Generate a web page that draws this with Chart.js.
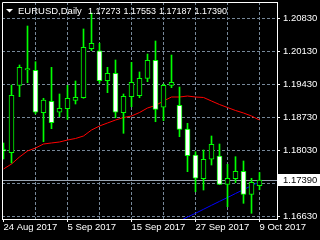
<!DOCTYPE html>
<html>
<head>
<meta charset="utf-8">
<script src="https://cdn.jsdelivr.net/npm/chart.js@4.4.1/dist/chart.umd.min.js"></script>
<style>
  html, body { margin: 0; padding: 0; background: #000; }
</style>
</head>
<body>
<canvas id="c" width="320" height="240"></canvas>
<script>
/* ── Data: EURUSD daily ───────────────────────────────── */
const days = [
    '24 Aug 2017', '25 Aug 2017', '28 Aug 2017', '29 Aug 2017', '30 Aug 2017', '31 Aug 2017',
    '1 Sep 2017', '4 Sep 2017', '5 Sep 2017', '6 Sep 2017', '7 Sep 2017', '8 Sep 2017',
    '11 Sep 2017', '12 Sep 2017', '13 Sep 2017', '14 Sep 2017', '15 Sep 2017',
    '18 Sep 2017', '19 Sep 2017', '20 Sep 2017', '21 Sep 2017', '22 Sep 2017',
    '25 Sep 2017', '26 Sep 2017', '27 Sep 2017', '28 Sep 2017', '29 Sep 2017',
    '2 Oct 2017', '3 Oct 2017', '4 Oct 2017', '5 Oct 2017', '6 Oct 2017', '9 Oct 2017',
];
const opens  = [1.18041, 1.17973, 1.19402, 1.19727, 1.19721, 1.18821, 1.19063, 1.18830, 1.18906, 1.19084, 1.19139,
                1.20179, 1.20136, 1.19500, 1.19657, 1.18821, 1.19161, 1.19182, 1.19551, 1.19933, 1.18936, 1.19402,
                1.18978, 1.18475, 1.17924, 1.17421, 1.17833, 1.17903, 1.17302, 1.17421, 1.17578, 1.17090, 1.17273];
const highs  = [1.18179, 1.19409, 1.19833, 1.20660, 1.19903, 1.19127, 1.19784, 1.19218, 1.19402, 1.19494, 1.20597,
                1.20936, 1.20293, 1.19784, 1.19939, 1.19218, 1.19890, 1.19685, 1.20066, 1.20342, 1.19430, 1.20045,
                1.19366, 1.18596, 1.17994, 1.18030, 1.18327, 1.18157, 1.17727, 1.17888, 1.17797, 1.17430, 1.17553];
const lows   = [1.17839, 1.17754, 1.19161, 1.19458, 1.18794, 1.18206, 1.18482, 1.18736, 1.18681, 1.19006, 1.19127,
                1.20136, 1.19445, 1.19246, 1.18715, 1.18384, 1.18948, 1.19139, 1.19479, 1.18630, 1.18652, 1.19352,
                1.18312, 1.17570, 1.17145, 1.17181, 1.17712, 1.17295, 1.16827, 1.17336, 1.16899, 1.16687, 1.17187];
const closes = [1.18009, 1.19190, 1.19784, 1.19759, 1.18830, 1.19091, 1.18609, 1.18915, 1.19127, 1.19148, 1.20209,
                1.20293, 1.19500, 1.19657, 1.18830, 1.19169, 1.19466, 1.19551, 1.19933, 1.18893, 1.19402, 1.19466,
                1.18469, 1.17909, 1.17430, 1.17833, 1.18151, 1.17302, 1.17430, 1.17578, 1.17090, 1.17345, 1.17390];

const maRed  = [1.17627, 1.17733, 1.17882, 1.18009, 1.18072, 1.18157, 1.18179, 1.18200, 1.18242, 1.18274, 1.18327,
                1.18454, 1.18539, 1.18603, 1.18666, 1.18719, 1.18751, 1.18825, 1.18921, 1.18974, 1.19069, 1.19154,
                1.19154, 1.19175, 1.19154, 1.19144, 1.19069, 1.18995, 1.18931, 1.18868, 1.18815, 1.18751, 1.18666];
const maBlue = [null, null, null, null, null, null, null, null, null, null, null,
                null, null, null, null, null, null, null, null, null, null, null,
                1.16524, 1.16609, 1.16687, 1.16772, 1.16857, 1.16940, 1.17022, 1.17107, 1.17190, 1.17273, 1.17355];

const priceTicks = [1.16630, 1.17330, 1.18030, 1.18730, 1.19430, 1.20130, 1.20830];
const dayTicks   = [0, 4, 8, 12, 16, 20, 24, 28, 32];   // labelled every 8th bar

/* ── Styles ─────────────────────────────────────────────── */
const FONT   = "'Liberation Sans', Arial, sans-serif";
const GRID   = '#778899';
const CANDLE = '#00ff00';
const Y_MIN  = 1.165664;
const Y_MAX  = 1.211694;

const last = closes.length - 1;
const idx  = days.map((d, i) => i);

/* ── Frame, title, price line and label ─────────────────── */
const mt4Plugin = {
    id: 'mt4',
    beforeDraw(chart) {
        const ctx = chart.ctx;
        ctx.save();
        ctx.fillStyle = '#000';
        ctx.fillRect(0, 0, chart.width, chart.height);
        ctx.restore();
    },
    beforeDatasetsDraw(chart) {
        const { ctx, chartArea: a, scales: { y } } = chart;
        const py = Math.round(y.getPixelForValue(closes[last])) + 0.5;
        ctx.save();
        ctx.strokeStyle = '#9aa5b4';
        ctx.lineWidth = 1;
        ctx.beginPath();
        ctx.moveTo(a.left, py);
        ctx.lineTo(a.right, py);
        ctx.stroke();
        ctx.restore();
    },
    afterDraw(chart) {
        const { ctx, chartArea: a, scales: { y } } = chart;
        ctx.save();
        // left + top frame
        ctx.strokeStyle = '#fff';
        ctx.lineWidth = 1;
        ctx.beginPath();
        ctx.moveTo(a.left + 0.5, a.bottom);
        ctx.lineTo(a.left + 0.5, a.top + 0.5);
        ctx.lineTo(a.right, a.top + 0.5);
        ctx.stroke();

        // title
        ctx.fillStyle = '#fff';
        ctx.beginPath();
        ctx.moveTo(6, 9);
        ctx.lineTo(13, 9);
        ctx.lineTo(9.5, 12.5);
        ctx.closePath();
        ctx.fill();
        ctx.font = '9.5px ' + FONT;
        ctx.textBaseline = 'alphabetic';
        ctx.fillText('EURUSD,Daily', 18, 14);
        ctx.font = '9px ' + FONT;
        const ohlc = [opens[last], highs[last], lows[last], closes[last]];
        ohlc.forEach((v, i) => ctx.fillText(v.toFixed(5), 88 + i * 35.5, 14));

        // current price label
        const py = Math.round(y.getPixelForValue(closes[last]));
        ctx.font = '9.5px ' + FONT;
        ctx.fillStyle = '#fff';
        ctx.fillRect(a.right + 1, py - 6, 42, 12);
        ctx.fillStyle = '#000';
        ctx.textBaseline = 'middle';
        ctx.fillText(closes[last].toFixed(5), a.right + 6, py + 0.5);
        ctx.restore();
    },
};

/* ── Chart ──────────────────────────────────────────────── */
new Chart(document.getElementById('c'), {
    type : 'bar',
    data : {
        datasets : [
            {
                label           : 'body',
                data            : idx.map(i => ({ x: i, y: [opens[i], closes[i]] })),
                backgroundColor : idx.map(i => closes[i] >= opens[i] ? '#000' : '#fff'),
                borderColor     : CANDLE,
                borderWidth     : 1,
                borderSkipped   : false,
                barThickness    : 5,
                grouped         : false,
                order           : 1,
            },
            {
                label           : 'wick',
                data            : idx.map(i => ({ x: i, y: [lows[i], highs[i]] })),
                backgroundColor : CANDLE,
                borderWidth     : 0,
                barThickness    : 1,
                grouped         : false,
                order           : 2,
            },
            {
                type        : 'line',
                label       : 'MA red',
                data        : idx.map(i => ({ x: i, y: maRed[i] })),
                borderColor : '#ff0000',
                borderWidth : 1,
                pointRadius : 0,
                order       : 3,
            },
            {
                type        : 'line',
                label       : 'MA blue',
                data        : idx.filter(i => maBlue[i] !== null).map(i => ({ x: i, y: maBlue[i] })),
                borderColor : '#0000ff',
                borderWidth : 1,
                pointRadius : 0,
                order       : 3,
            },
        ],
    },
    options : {
        responsive : false,
        animation  : false,
        layout     : { padding: { left: 2, top: 2, right: 0, bottom: 0 } },
        plugins    : { legend: { display: false }, tooltip: { enabled: false } },
        scales : {
            x : {
                type   : 'linear',
                offset : false,
                min    : -0.1875,
                max    : 34.1875,
                afterBuildTicks : s => { s.ticks = dayTicks.map(v => ({ value: v })); },
                afterFit        : s => { s.height = 21; s.paddingLeft = 0; s.paddingRight = 0; },
                grid : {
                    offset     : false,
                    color      : c => (c.tick && c.tick.value === 0) ? 'rgba(0,0,0,0)' : GRID,
                    tickColor  : c => (c.tick && c.tick.value % 8 === 0) ? '#fff' : 'rgba(0,0,0,0)',
                    tickLength : 3,
                },
                border : { color: '#fff', width: 1, dash: [3, 2] },
                ticks  : {
                    color       : '#fff',
                    align       : 'start',
                    autoSkip    : false,
                    maxRotation : 0,
                    padding     : 1,
                    font        : { family: FONT, size: 9.5, lineHeight: 1 },
                    callback    : v => (v % 8 === 0 ? days[v] : ''),
                },
            },
            y : {
                position : 'right',
                min      : Y_MIN,
                max      : Y_MAX,
                afterBuildTicks : s => { s.ticks = priceTicks.map(v => ({ value: v })); },
                afterFit        : s => { s.width = 43; s.paddingTop = 0; s.paddingBottom = 0; },
                grid   : { color: GRID, tickColor: '#fff', tickLength: 3 },
                border : { color: '#fff', width: 1, dash: [3, 2] },
                ticks  : {
                    color    : '#fff',
                    padding  : 3,
                    font     : { family: FONT, size: 9.5, lineHeight: 1 },
                    callback : v => v.toFixed(5),
                },
            },
        },
    },
    plugins : [mt4Plugin],
});
</script>
</body>
</html>
